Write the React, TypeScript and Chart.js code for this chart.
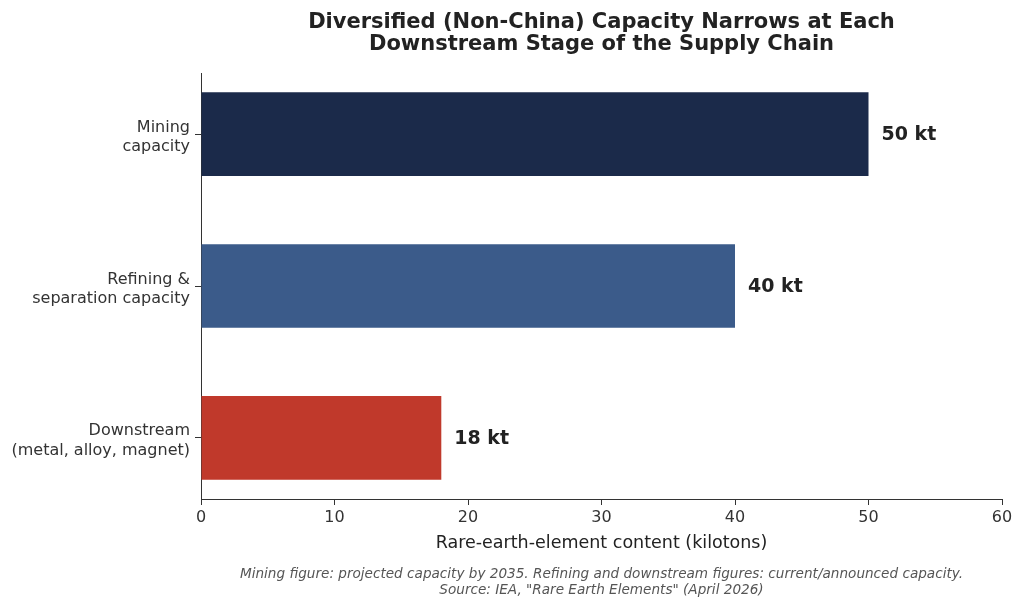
import React, { useEffect, useRef } from 'react';
import { Chart, registerables } from 'chart.js';

Chart.register(...registerables);

const FONT = '"DejaVu Sans", Verdana, sans-serif';

const stageLabels: string[][] = [
  ['Mining', 'capacity'],
  ['Refining &', 'separation capacity'],
  ['Downstream', '(metal, alloy, magnet)'],
];
const capacityKt: number[] = [50, 40, 18];
const barColors: string[] = ['#1B2A4A', '#3B5B8A', '#C0392B'];
const xTicks: number[] = [0, 10, 20, 30, 40, 50, 60];

const titleLines = [
  'Diversified (Non-China) Capacity Narrows at Each',
  'Downstream Stage of the Supply Chain',
];
const noteLines = [
  'Mining figure: projected capacity by 2035. Refining and downstream figures: current/announced capacity.',
  'Source: IEA, "Rare Earth Elements" (April 2026)',
];

const textPlugin = {
  id: 'textPlugin',
  afterDraw(chart: Chart) {
    const { ctx, chartArea, scales } = chart;
    const cx = (chartArea.left + chartArea.right) / 2;
    ctx.save();
    // title
    ctx.fillStyle = '#222';
    ctx.textAlign = 'center';
    ctx.textBaseline = 'middle';
    ctx.font = `bold 21px ${FONT}`;
    titleLines.forEach((t, i) => ctx.fillText(t, cx, 22.5 + i * 22));
    // value labels
    ctx.textAlign = 'left';
    ctx.font = `bold 19px ${FONT}`;
    capacityKt.forEach((v, i) => {
      const x = scales.x.getPixelForValue(v) + 13;
      const y = scales.y.getPixelForValue(i) + 1;
      ctx.fillText(`${v} kt`, x, y);
    });
    // footnote
    ctx.textAlign = 'center';
    ctx.fillStyle = '#555';
    ctx.font = `italic 13.6px ${FONT}`;
    noteLines.forEach((t, i) => ctx.fillText(t, cx, 574 + i * 16.5));
    ctx.restore();
  },
};

const App: React.FC = () => {
  const canvasRef = useRef<HTMLCanvasElement | null>(null);

  useEffect(() => {
    document.body.style.margin = '0';
    if (!canvasRef.current) return;
    const ctx = canvasRef.current.getContext('2d');
    if (!ctx) return;

    const chart = new Chart(ctx, {
      type: 'bar',
      data: {
        datasets: [
          {
            data: capacityKt.map((v, i) => ({ x: v, y: i })),
            backgroundColor: barColors,
            borderWidth: 0,
            barPercentage: 0.55,
            categoryPercentage: 1,
          },
        ],
      },
      options: {
        indexAxis: 'y',
        responsive: false,
        animation: false,
        layout: { padding: { left: 0, right: 22, top: 73, bottom: 54 } },
        plugins: {
          legend: { display: false },
          tooltip: { enabled: false },
        },
        scales: {
          y: {
            type: 'linear',
            reverse: true,
            offset: false,
            min: -0.4025,
            max: 2.4025,
            afterBuildTicks: (scale: any) => {
              scale.ticks = stageLabels.map((_, i) => ({ value: i }));
            },
            afterFit: (scale: any) => {
              scale.width = 201;
            },
            grid: {
              offset: false,
              drawOnChartArea: false,
              drawTicks: true,
              tickLength: 6,
              color: '#333',
            },
            border: { display: true, color: '#333', width: 1 },
            ticks: {
              padding: 5,
              labelOffset: 3,
              color: '#333',
              font: { family: FONT, size: 16, lineHeight: 1.2 },
              callback: (value: any) => stageLabels[Number(value)] ?? '',
            },
          },
          x: {
            type: 'linear',
            min: xTicks[0],
            max: xTicks[xTicks.length - 1],
            afterBuildTicks: (scale: any) => {
              scale.ticks = xTicks.map((v) => ({ value: v }));
            },
            afterFit: (scale: any) => {
              scale.height = 55;
            },
            grid: {
              drawOnChartArea: false,
              drawTicks: true,
              tickLength: 6,
              color: '#333',
            },
            border: { display: true, color: '#333', width: 1 },
            ticks: {
              padding: 3,
              color: '#333',
              maxRotation: 0,
              font: { family: FONT, size: 16 },
            },
            title: {
              display: true,
              text: 'Rare-earth-element content (kilotons)',
              color: '#222',
              font: { family: FONT, size: 17.5 },
              padding: { top: 2, bottom: 0 },
            },
          },
        },
      },
      plugins: [textPlugin],
    });

    return () => {
      chart.destroy();
    };
  }, []);

  return (
    <div style={{ width: 1024, height: 608, background: '#fff' }}>
      <canvas ref={canvasRef} width={1024} height={608} />
    </div>
  );
};

export default App;
